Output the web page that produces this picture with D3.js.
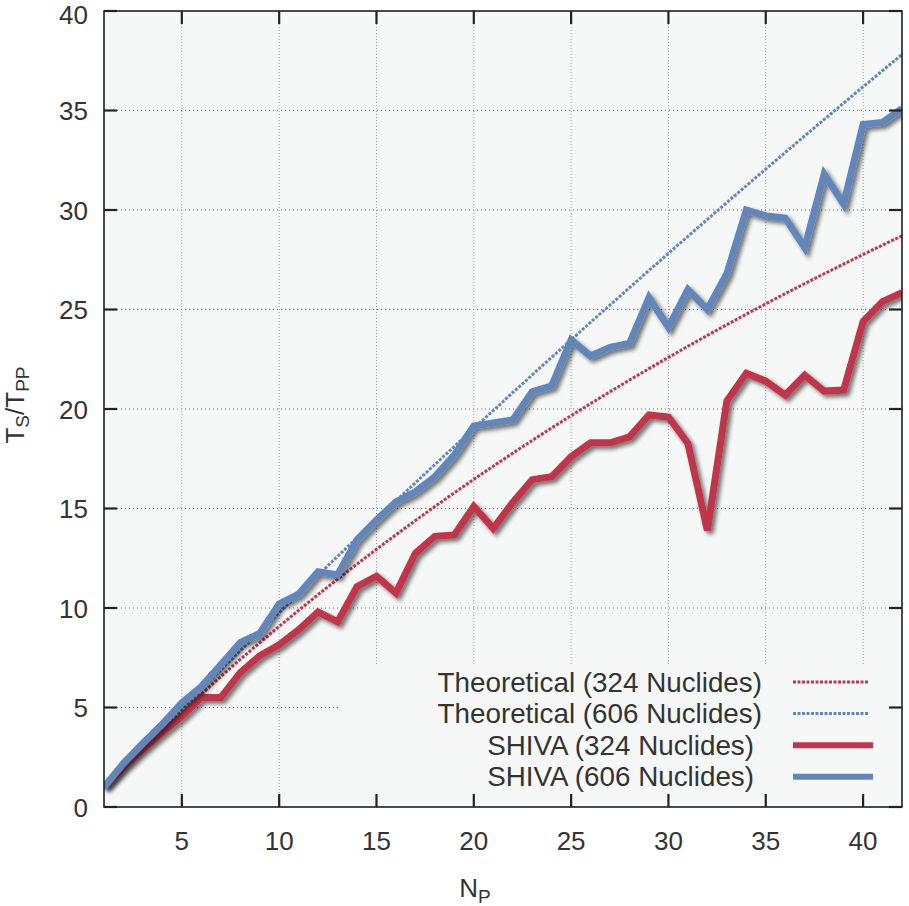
<!DOCTYPE html>
<html><head><meta charset="utf-8">
<script src="https://cdn.jsdelivr.net/npm/d3@7"></script>
<style>body{margin:0;background:#fff}svg{display:block}text{font-family:"Liberation Sans",Arial,sans-serif;fill:#333}</style>
</head><body>
<svg id="c" width="909" height="906"></svg>
<script>
const nodes = d3.range(1, 43);
const shiva324 = [1,2.0,2.9,3.75,4.55,5.5,5.5,6.75,7.6,8.15,8.9,9.8,9.3,11.07,11.6,10.75,12.75,13.6,13.67,15.1,14.0,15.3,16.45,16.6,17.6,18.3,18.3,18.6,19.7,19.6,18.27,13.9,20.4,21.8,21.4,20.7,21.7,20.9,20.95,24.4,25.4,25.85];
const shiva606 = [1,2.2,3.2,4.17,5.24,6.05,7.14,8.26,8.72,10.2,10.7,11.82,11.66,13.42,14.42,15.33,15.84,16.6,17.69,19.15,19.3,19.45,20.87,21.16,23.47,22.66,23.1,23.3,25.6,24.1,26.0,25.0,26.8,30.0,29.7,29.6,28.1,31.8,30.3,34.3,34.4,35.1];
const theo324 = [1,1.978,2.934,3.869,4.784,5.679,6.556,7.414,8.254,9.077,9.883,10.673,11.448,12.207,12.951,13.681,14.397,15.099,15.789,16.465,17.129,17.781,18.421,19.049,19.667,20.273,20.869,21.454,22.030,22.595,23.152,23.698,24.236,24.765,25.285,25.797,26.301,26.796,27.284,27.764,28.237,28.702];
const theo606 = [1,1.995,2.984,3.968,4.947,5.920,6.888,7.852,8.810,9.763,10.711,11.654,12.592,13.525,14.454,15.377,16.296,17.210,18.119,19.024,19.924,20.819,21.710,22.597,23.479,24.356,25.229,26.098,26.962,27.822,28.677,29.528,30.376,31.218,32.057,32.892,33.722,34.549,35.371,36.189,37.004,37.814];
const xTicks = [5,10,15,20,25,30,35,40];
const yTicks = [0,5,10,15,20,25,30,35,40];
const seriesNames = ["Theoretical (324 Nuclides)","Theoretical (606 Nuclides)","SHIVA (324 Nuclides)","SHIVA (606 Nuclides)"];

const RED = "#c1364c", BLUE = "#6286b9";
const svg = d3.select("#c");
const L = 104, R = 902, T = 11, B = 807;
const x = d3.scaleLinear().domain([1, 42]).range([L, R]);
const y = d3.scaleLinear().domain([0, 40]).range([B, T]);

const defs = svg.append("defs");
const f = defs.append("filter").attr("id","sh").attr("x","-10%").attr("y","-10%").attr("width","130%").attr("height","130%");
f.append("feGaussianBlur").attr("in","SourceAlpha").attr("stdDeviation",2).attr("result","b");
f.append("feOffset").attr("in","b").attr("dx",3).attr("dy",3).attr("result","o");
f.append("feComponentTransfer").attr("in","o").attr("result","o2").append("feFuncA").attr("type","linear").attr("slope",0.55);
const m = f.append("feMerge"); m.append("feMergeNode").attr("in","o2"); m.append("feMergeNode").attr("in","SourceGraphic");
defs.append("clipPath").attr("id","clip").append("rect").attr("x",L).attr("y",T).attr("width",R-L).attr("height",B-T);

svg.append("rect").attr("x",L).attr("y",T).attr("width",R-L).attr("height",B-T).attr("fill","#f6f8f8");

// grid
const g = svg.append("g");
g.selectAll(".gy").data(yTicks.filter(d=>d>0&&d<40)).join("line")
  .attr("x1",L+13).attr("x2",R).attr("y1",d=>y(d)).attr("y2",d=>y(d))
  .attr("stroke","#666").attr("stroke-width",1).attr("stroke-dasharray","1,3");
g.selectAll(".gx").data(xTicks).join("line")
  .attr("x1",d=>x(d)).attr("x2",d=>x(d)).attr("y1",T+13).attr("y2",B)
  .attr("stroke","#999").attr("stroke-width",1).attr("stroke-dasharray","1,2");

// legend background (covers grid)
svg.append("rect").attr("x",340).attr("y",665).attr("width",546).attr("height",B-665).attr("fill","#f6f8f8");

const line = d3.line().x((d,i)=>x(nodes[i])).y(d=>y(d));
const plot = svg.append("g").attr("clip-path","url(#clip)");
plot.append("path").datum(theo324).attr("d",line).attr("fill","none").attr("stroke",RED).attr("stroke-width",3).attr("stroke-dasharray","3,1.5");
plot.append("path").datum(theo606).attr("d",line).attr("fill","none").attr("stroke",BLUE).attr("stroke-width",3).attr("stroke-dasharray","3,1.5");
plot.append("path").datum(shiva324).attr("d",line).attr("fill","none").attr("stroke",RED).attr("stroke-width",7).attr("stroke-linejoin","miter").attr("filter","url(#sh)");
plot.append("path").datum(shiva606).attr("d",line).attr("fill","none").attr("stroke",BLUE).attr("stroke-width",7).attr("stroke-linejoin","miter").attr("filter","url(#sh)");

// border
svg.append("rect").attr("x",L).attr("y",T).attr("width",R-L).attr("height",B-T).attr("fill","none").attr("stroke","#111").attr("stroke-width",1.5);

// ticks
const tk = svg.append("g").attr("stroke","#222").attr("stroke-width",2.2);
tk.selectAll(".a").data(xTicks).join("line").attr("x1",d=>x(d)).attr("x2",d=>x(d)).attr("y1",B).attr("y2",B-13);
tk.selectAll(".b").data(xTicks).join("line").attr("x1",d=>x(d)).attr("x2",d=>x(d)).attr("y1",T).attr("y2",T+13);
tk.selectAll(".c").data(yTicks).join("line").attr("x1",L).attr("x2",L+13).attr("y1",d=>y(d)).attr("y2",d=>y(d));
tk.selectAll(".d").data(yTicks).join("line").attr("x1",R).attr("x2",R-13).attr("y1",d=>y(d)).attr("y2",d=>y(d));

// tick labels
svg.selectAll(".xl").data(xTicks).join("text").attr("x",d=>x(d)).attr("y",850)
  .attr("text-anchor","middle").attr("font-size",26).text(d=>d);
svg.selectAll(".yl").data(yTicks).join("text").attr("x",88).attr("y",d=>Math.max(y(d)+9.5, 23.5))
  .attr("text-anchor","end").attr("font-size",26).text(d=>d);

// axis titles
const xt = svg.append("text").attr("x",475).attr("y",897).attr("text-anchor","middle").attr("font-size",26);
xt.append("tspan").text("N");
xt.append("tspan").attr("font-size",19).attr("dy",6).text("P");
const yt = svg.append("text").attr("transform","translate(24,405) rotate(-90)").attr("text-anchor","middle").attr("font-size",26);
yt.append("tspan").text("T");
yt.append("tspan").attr("font-size",19).attr("dy",5).text("S");
yt.append("tspan").attr("dy",-5).text("/T");
yt.append("tspan").attr("font-size",19).attr("dy",5).text("PP");

// legend
const legColors = [RED, BLUE, RED, BLUE];
const leg = svg.append("g");
seriesNames.forEach((name, i) => {
  const cy = 682 + i * 31.6;
  const dashed = i < 2;
  leg.append("text").attr("x", dashed ? 762 : 754).attr("y", cy + 9.5).attr("text-anchor","end").attr("font-size",27.8).text(name);
  leg.append("line").attr("x1",793).attr("x2", dashed ? 868 : 873).attr("y1",cy).attr("y2",cy)
    .attr("stroke",legColors[i]).attr("stroke-width", dashed ? 3 : 6).attr("stroke-dasharray", dashed ? "3,1.5" : null);
});
</script>
</body></html>
